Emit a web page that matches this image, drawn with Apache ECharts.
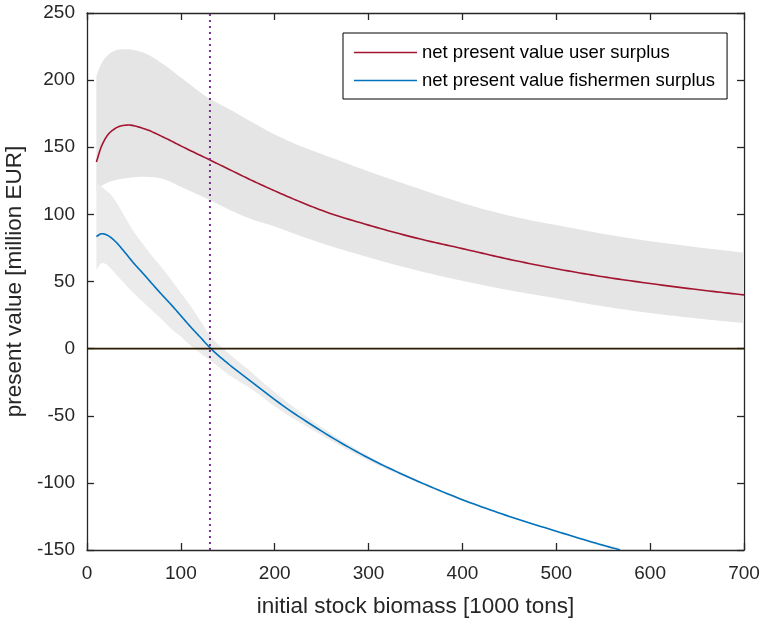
<!DOCTYPE html>
<html>
<head>
<meta charset="utf-8">
<script src="https://cdn.jsdelivr.net/npm/echarts@6/dist/echarts.min.js"></script>
<style>html,body{margin:0;padding:0;background:#fff;}#chart{width:760px;height:623px;}</style>
</head>
<body>
<div id="chart"></div>
<script>
// ---- data ----
const userX     = [10, 15, 20, 30, 42, 60, 83, 100, 131, 150, 175, 200, 227, 250, 300, 350, 400, 450, 500, 550, 600, 650, 700];
const userNPV   = [139, 150, 157, 164, 166.5, 164, 157, 151, 140.5, 134, 125.5, 117.5, 109.4, 103, 92, 82.5, 74.5, 66.5, 59.5, 53.5, 48.5, 44, 40];
const userUpper = [203, 212, 217, 222, 223, 220.5, 211, 202, 186, 179, 169, 159.5, 151, 145, 132, 120, 108.5, 99, 92, 85.5, 80, 75.5, 71.5];
const userLower = [117, 121, 123, 125.5, 127, 128, 126, 120.5, 110.6, 104, 96.5, 91, 84, 78.5, 68, 58.5, 50.5, 43.5, 37.5, 31.5, 26.5, 22.5, 19];

const fishX     = [10, 15, 20, 25, 30, 40, 50, 60, 70, 80, 90, 100, 110, 120, 132, 150, 175, 200, 250, 300, 350, 400, 450, 500, 550, 568];
const fishNPV   = [83.5, 85.5, 85, 83, 80, 72, 63.5, 55.8, 47.8, 40, 32.5, 24.5, 16.5, 9, 0, -11, -24.5, -38, -61.5, -81.5, -98, -112.5, -125, -136, -146.5, -150];
const fishUpper = [123, 121, 118, 115, 110.5, 98.5, 87, 77.5, 68.5, 60, 51, 41.5, 32, 21.5, 9, -3, -17.5, -32.5, -58.5, -80, -97, -112, -124.5, -135.5, -145.5, -148.5];
const fishLower = [58.5, 63.5, 63, 60, 56, 48.5, 41, 34.5, 28, 21.5, 14.5, 9, 2.5, -3, -9, -19, -30, -43, -64.5, -83.5, -99, -113.5, -125.5, -136.5, -147.5, -151];

const optimalBiomass = 131;
const xTicks = {min: 0, max: 700, step: 100};
const yTicks = {min: -150, max: 250, step: 50};

const seriesNames = ['net present value user surplus', 'net present value fishermen surplus'];
const xName = 'initial stock biomass [1000 tons]';
const yName = 'present value [million EUR]';

// ---- chart ----
const FONT = '"Liberation Sans", Arial, Helvetica, sans-serif';
const AX = '#262626';
const chart = echarts.init(document.getElementById('chart'), null, {renderer: 'canvas'});

// cubic Hermite smoothing of projected pixel points along x (rendering only)
function smoothPx(pts, steps) {
  const n = pts.length;
  if (n < 3) return pts.slice();
  const d = [], m = [];
  for (let i = 0; i < n - 1; i++) d.push((pts[i + 1][1] - pts[i][1]) / (pts[i + 1][0] - pts[i][0]));
  m[0] = d[0];
  m[n - 1] = d[n - 2];
  for (let i = 1; i < n - 1; i++) {
    const h0 = pts[i][0] - pts[i - 1][0], h1 = pts[i + 1][0] - pts[i][0];
    m[i] = (h1 * d[i - 1] + h0 * d[i]) / (h0 + h1);
  }
  const out = [];
  for (let i = 0; i < n - 1; i++) {
    const x0 = pts[i][0], x1 = pts[i + 1][0], y0 = pts[i][1], y1 = pts[i + 1][1], h = x1 - x0;
    for (let s = 0; s < steps; s++) {
      const t = s / steps, t2 = t * t, t3 = t2 * t;
      const y = (2 * t3 - 3 * t2 + 1) * y0 + (t3 - 2 * t2 + t) * h * m[i] + (-2 * t3 + 3 * t2) * y1 + (t3 - t2) * h * m[i + 1];
      out.push([x0 + t * h, y]);
    }
  }
  out.push(pts[n - 1]);
  return out;
}

function band(xs, up, lo, color, z) {
  return {
    type: 'custom',
    xAxisIndex: 0, yAxisIndex: 0,
    silent: true, z: z, clip: true,
    data: [[xs[0], up[0]]],
    renderItem: function (params, api) {
      const u = xs.map((x, i) => api.coord([x, up[i]]));
      const l = xs.map((x, i) => api.coord([x, lo[i]]));
      const pts = smoothPx(u, 12).concat(smoothPx(l, 12).reverse());
      const cs = params.coordSys;
      const clipped = echarts.graphic.clipPointsByRect(pts, {x: cs.x, y: cs.y, width: cs.width, height: cs.height});
      return {type: 'polygon', shape: {points: clipped}, style: {fill: color}};
    }
  };
}

function curve(name, xs, ys, color, z) {
  return {
    name: name,
    type: 'custom',
    xAxisIndex: 0, yAxisIndex: 0,
    z: z, clip: true, silent: true,
    data: [[xs[0], ys[0]]],
    renderItem: function (params, api) {
      const p = smoothPx(xs.map((x, i) => api.coord([x, ys[i]])), 12);
      return {type: 'polyline', shape: {points: p}, style: {stroke: color, lineWidth: 1.6, fill: null}};
    },
    itemStyle: {color: color}
  };
}

const xAxisBase = {
  type: 'value', min: xTicks.min, max: xTicks.max, interval: xTicks.step,
  splitLine: {show: false},
  axisLine: {show: true, onZero: false, lineStyle: {color: AX, width: 1.3}},
  axisTick: {show: true, inside: true, length: 7, lineStyle: {color: AX, width: 1.3}},
};
const yAxisBase = {
  type: 'value', min: yTicks.min, max: yTicks.max, interval: yTicks.step,
  splitLine: {show: false},
  axisLine: {show: true, onZero: false, lineStyle: {color: AX, width: 1.3}},
  axisTick: {show: true, inside: true, length: 7, lineStyle: {color: AX, width: 1.3}},
};

const option = {
  animation: false,
  backgroundColor: '#ffffff',
  grid: {left: 87, right: 16, top: 13, bottom: 73, containLabel: false, outerBoundsMode: 'none'},
  legend: {
    left: 343, top: 33, orient: 'vertical',
    data: seriesNames.map(n => ({name: n, icon: 'rect'})),
    backgroundColor: '#ffffff', borderColor: '#000000', borderWidth: 1,
    padding: [10, 12, 9, 11],
    itemWidth: 63, itemHeight: 1.6, itemGap: 9,
    textStyle: {fontFamily: FONT, fontSize: 18.5, color: '#000000'}
  },
  xAxis: [
    Object.assign({}, xAxisBase, {
      position: 'bottom',
      name: xName, nameLocation: 'middle', nameGap: 45,
      nameTextStyle: {fontFamily: FONT, fontSize: 22.5, color: AX},
      axisLabel: {show: true, margin: 14, fontFamily: FONT, fontSize: 19, color: AX}
    }),
    Object.assign({}, xAxisBase, {position: 'top', axisLabel: {show: false}})
  ],
  yAxis: [
    Object.assign({}, yAxisBase, {
      position: 'left',
      name: yName, nameLocation: 'middle', nameGap: 51,
      nameTextStyle: {fontFamily: FONT, fontSize: 22.5, color: AX},
      axisLabel: {show: true, margin: 12, fontFamily: FONT, fontSize: 19, color: AX}
    }),
    Object.assign({}, yAxisBase, {position: 'right', axisLabel: {show: false}})
  ],
  series: [
    band(userX, userUpper, userLower, '#e5e5e5', 1),
    band(fishX, fishUpper, fishLower, '#ebebeb', 2),
    curve(seriesNames[0], userX, userNPV, '#A2142F', 5),
    curve(seriesNames[1], fishX, fishNPV, '#0072BD', 5),
    {
      name: 'zero', type: 'line', data: [[xTicks.min, 0], [xTicks.max, 0]],
      symbol: 'none', z: 6, silent: true,
      lineStyle: {color: '#2a1c00', width: 1.6}
    },
    {
      name: 'optimal', type: 'line', data: [[optimalBiomass, yTicks.min], [optimalBiomass, yTicks.max]],
      symbol: 'none', z: 7, silent: true,
      lineStyle: {color: '#7E2F8E', width: 2, type: [2, 4]}
    }
  ]
};
chart.setOption(option);
</script>
</body>
</html>
